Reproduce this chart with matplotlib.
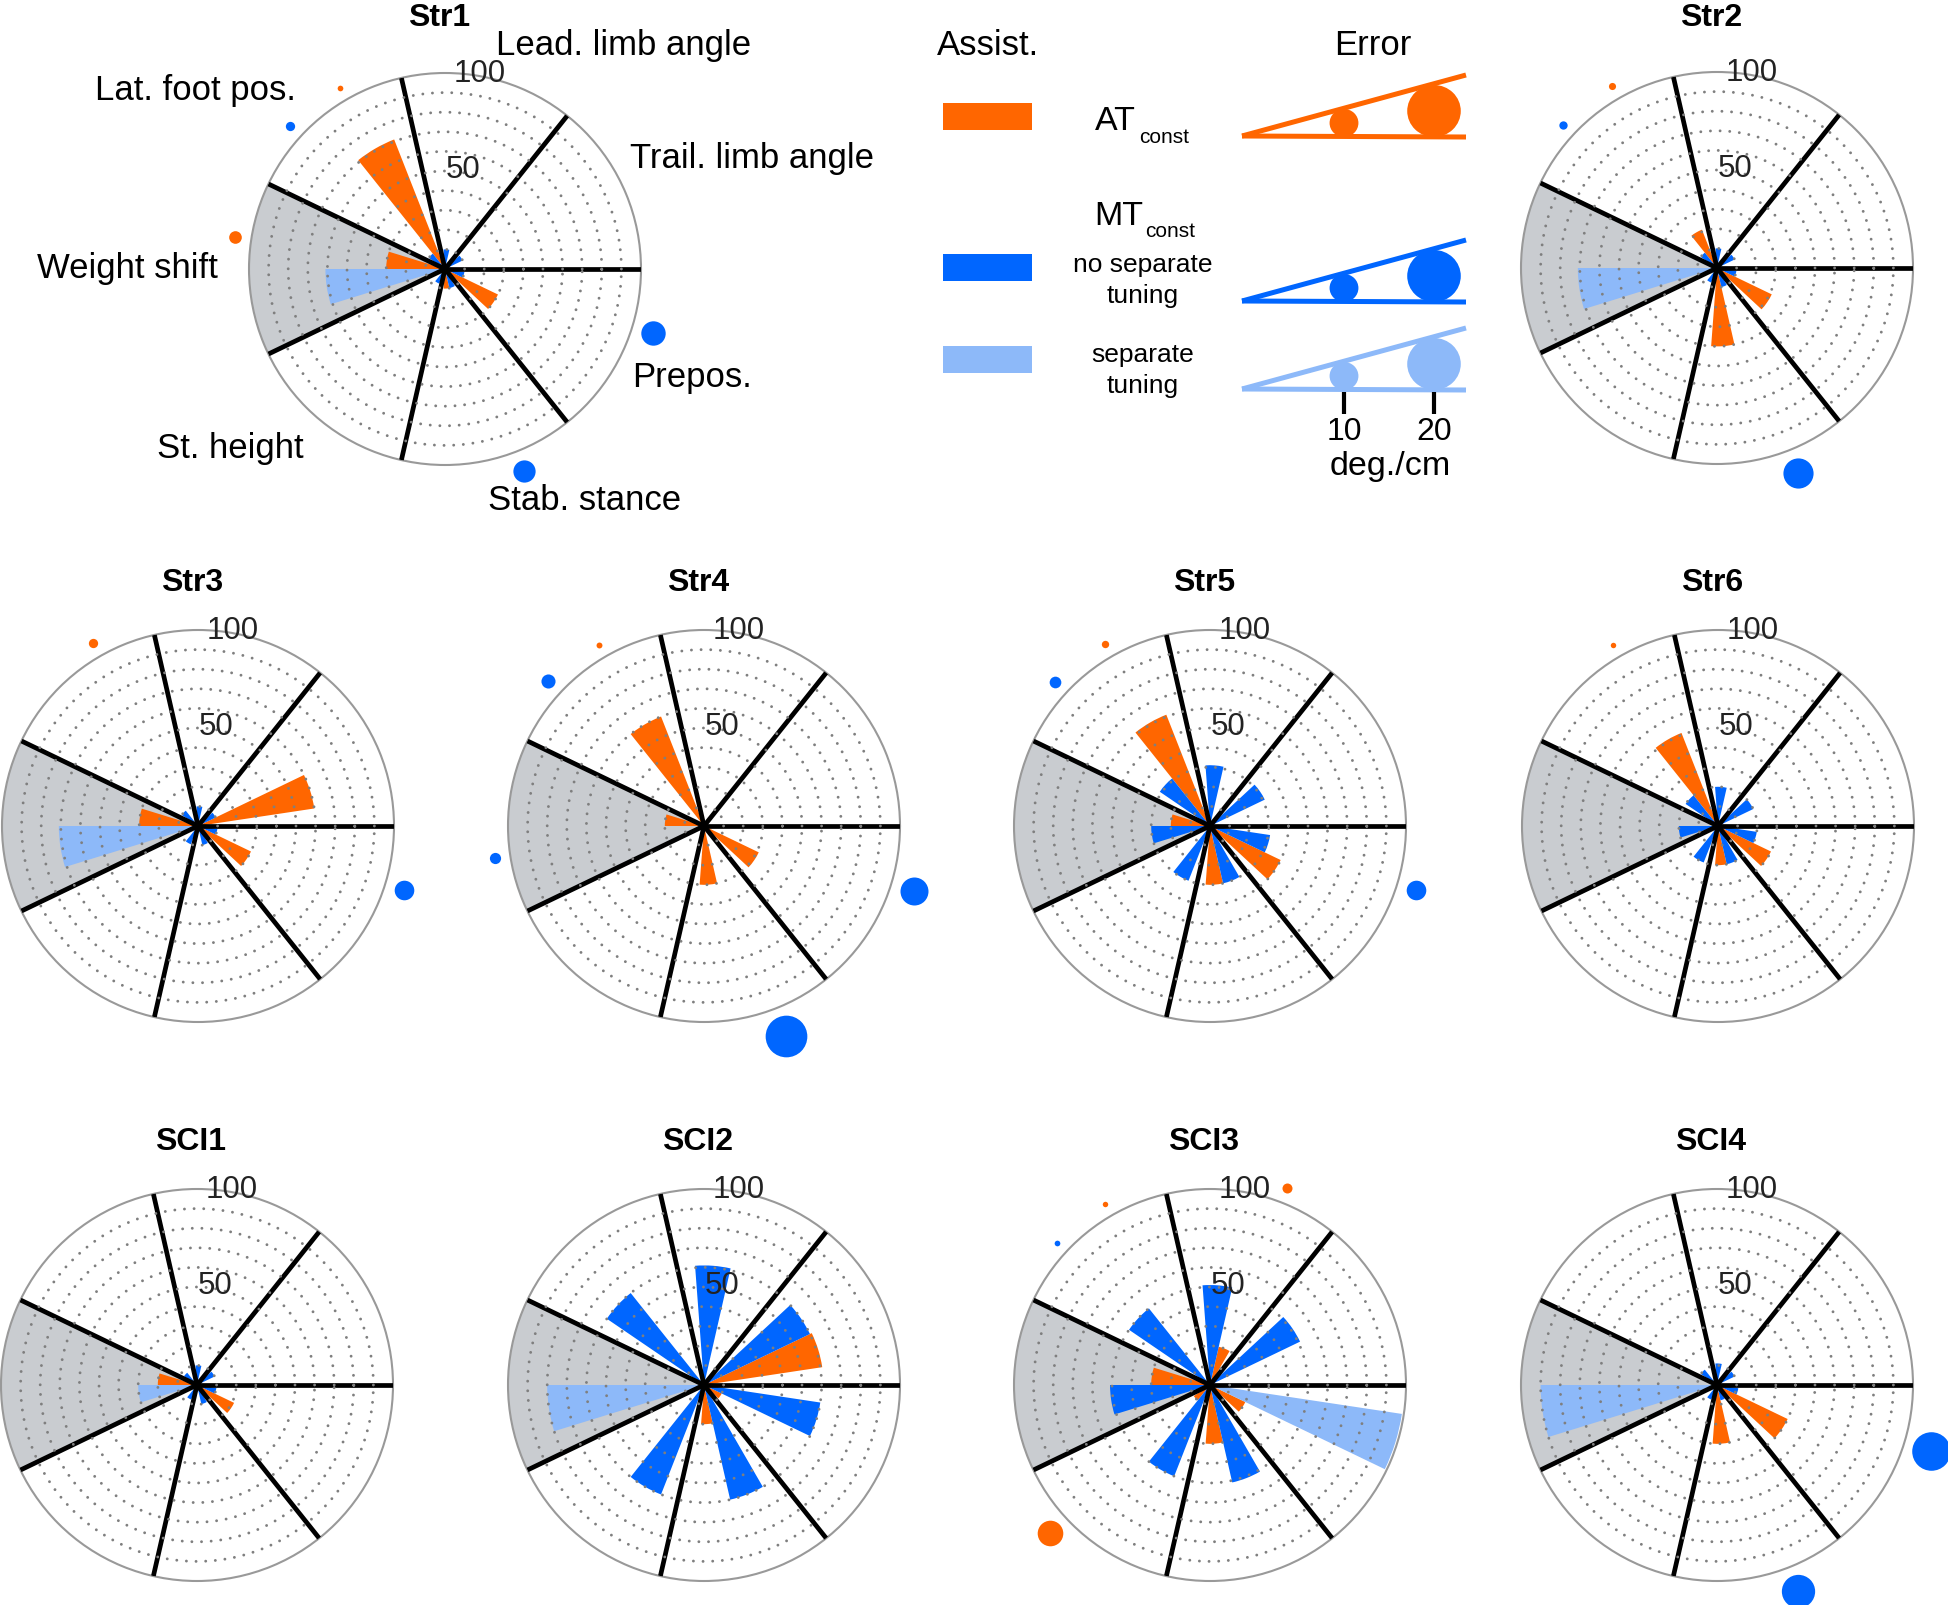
import numpy as np
import matplotlib
matplotlib.use('Agg')
import matplotlib.pyplot as plt
from matplotlib.patches import Ellipse, Rectangle

plt.rcParams['font.family'] = ['Liberation Sans', 'DejaVu Sans']

nan = np.nan

# ---- data ----
subjects = ['Str1', 'Str2', 'Str3', 'Str4', 'Str5', 'Str6',
            'SCI1', 'SCI2', 'SCI3', 'SCI4']
# sectors counter-clockwise starting at 0 deg
sectors = ['Trail. limb angle', 'Lead. limb angle', 'Lat. foot pos.',
           'Weight shift', 'St. height', 'Stab. stance', 'Prepos.']

# assistance (%) per sector
at_const = [
    [0, 0, 71, 30, 0, 10, 30],     # Str1
    [0, 0, 21, 0, 0, 40, 31],      # Str2
    [60, 0, 0, 30, 0, 0, 30],      # Str3
    [0, 0, 60, 20, 0, 30, 31],     # Str4
    [0, 0, 61, 20, 0, 30, 40],     # Str5
    [0, 0, 51, 0, 0, 20, 30],      # Str6
    [0, 0, 0, 20, 0, 0, 21],       # SCI1
    [61, 0, 0, 0, 0, 20, 10],      # SCI2
    [0, 20, 0, 30, 10, 30, 20],    # SCI3
    [0, 0, 0, 0, 0, 30, 40],       # SCI4
]
mt_const = [
    [10, 10, 10, 61, 8, 10, 10],
    [10, 10, 10, 71, 8, 10, 10],
    [10, 10, 10, 71, 10, 10, 10],
    [0, 0, 0, 0, 0, 0, 0],
    [31, 31, 31, 30, 30, 30, 31],
    [20, 20, 20, 20, 20, 20, 20],
    [10, 10, 8, 30, 8, 10, 10],
    [60, 61, 60, 80, 60, 60, 60],
    [51, 51, 50, 51, 50, 51, 99],
    [10, 11, 10, 90, 8, 8, 11],
]
# 1 = MT_const with separate tuning
mt_separate = [
    [0, 0, 0, 1, 0, 0, 0],
    [0, 0, 0, 1, 0, 0, 0],
    [0, 0, 0, 1, 0, 0, 0],
    [0, 0, 0, 0, 0, 0, 0],
    [0, 0, 0, 0, 0, 0, 0],
    [0, 0, 0, 0, 0, 0, 0],
    [0, 0, 0, 1, 0, 0, 0],
    [0, 0, 0, 1, 0, 0, 0],
    [0, 0, 0, 0, 0, 0, 1],
    [0, 0, 0, 1, 0, 0, 0],
]
# error (deg./cm), nan = not shown
at_error = [
    [nan, nan, 0.7, 3.6, nan, nan, nan],
    [nan, nan, 1.3, nan, nan, nan, nan],
    [nan, nan, 2.2, nan, nan, nan, nan],
    [nan, nan, 0.8, nan, nan, nan, nan],
    [nan, nan, 1.4, nan, nan, nan, nan],
    [nan, nan, 0.6, nan, nan, nan, nan],
    [nan, nan, nan, nan, nan, nan, nan],
    [nan, nan, nan, nan, nan, nan, nan],
    [nan, 2.5, 0.6, nan, 9.0, nan, nan],
    [nan, nan, nan, nan, nan, nan, nan],
]
mt_error = [
    [nan, nan, 2.2, nan, nan, 7.6, 8.5],
    [nan, nan, 1.8, nan, nan, 10.9, nan],
    [nan, nan, nan, nan, nan, nan, 6.5],
    [nan, nan, 4.2, 3.0, nan, 15.7, 10.0],
    [nan, nan, 3.2, nan, nan, nan, 6.5],
    [nan, nan, nan, nan, nan, nan, nan],
    [nan, nan, nan, nan, nan, nan, nan],
    [nan, nan, nan, nan, nan, nan, nan],
    [nan, nan, 0.7, nan, nan, nan, nan],
    [nan, nan, nan, nan, nan, 12.2, 14.4],
]
legend_errors = [10, 20]
rticks = [50, 100]

# ---- style ----
ORANGE = '#FF6600'
BLUE = '#0066FF'
LIGHT = '#8DB9F9'
GRAY = '#C9CCD0'

W, H = 1948, 1606
R = 196
centers = [(445, 270), (1717, 269),
           (198, 827), (704, 827), (1210, 827), (1718, 827),
           (197, 1386), (704, 1386), (1210, 1386), (1717, 1386)]
title_y = [26, 26, 591, 591, 591, 591, 1150, 1150, 1150, 1150]


def err_size(e):
    # marker diameter in pixels
    return 4 + 2.4 * e


fig = plt.figure(figsize=(W / 100, H / 100), dpi=100)

nsec = len(sectors)
sec_w = 2 * np.pi / nsec
bar_w = sec_w / 3
sec_mid = np.arange(nsec) * sec_w + sec_w / 2
edges = np.arange(nsec) * sec_w
ring_th = np.linspace(0, 2 * np.pi, 721)

for i, name in enumerate(subjects):
    cx, cy = centers[i]
    ax = fig.add_axes([(cx - R) / W, 1 - (cy + R) / H, 2 * R / W, 2 * R / H],
                      projection='polar')
    ax.set_ylim(0, 100)
    ax.set_xticks([])
    ax.set_yticks([])
    ax.grid(False)
    ax.spines['polar'].set_color('#999999')
    ax.spines['polar'].set_linewidth(1.5)

    # shaded weight-shift sector
    ax.bar(sec_mid[3], 100, width=sec_w, color=GRAY, linewidth=0, zorder=0.5)

    mt_cols = [LIGHT if s else BLUE for s in mt_separate[i]]
    ax.bar(sec_mid - bar_w / 2, at_const[i], width=bar_w, color=ORANGE,
           linewidth=0, zorder=1)
    ax.bar(sec_mid + bar_w / 2, mt_const[i], width=bar_w, color=mt_cols,
           linewidth=0, zorder=1)

    for e in edges:
        ax.plot([e, e], [0, 100], color='k', lw=3.4, zorder=3,
                solid_capstyle='butt')
    for r in range(10, 100, 10):
        ax.plot(ring_th, np.full_like(ring_th, r), color='#7f7f7f', lw=2.1,
                linestyle=(0, (0.01, 3.3)), dash_capstyle='round', zorder=4)

    for t in rticks:
        ax.text(np.deg2rad(80), t + 1.8, str(t), ha='center', va='center',
                fontsize=22.5, color='#222222', zorder=6)

    # error markers outside the circle
    for vals, cols, off in [(at_error[i], [ORANGE] * nsec, -bar_w / 2),
                            (mt_error[i], mt_cols, bar_w / 2)]:
        for k, e in enumerate(vals):
            if np.isnan(e):
                continue
            d = err_size(e)
            ax.scatter(sec_mid[k] + off, 105.5 + 0.23 * d, s=(d * 0.72) ** 2,
                       color=cols[k], linewidths=0, clip_on=False, zorder=5)

    fig.text((cx - 6) / W, 1 - title_y[i] / H, name, ha='center',
             va='baseline', fontsize=23, fontweight='bold')

# ---- overlay in pixel coordinates: sector names + legend ----
ov = fig.add_axes([0, 0, 1, 1])
ov.set_xlim(0, W)
ov.set_ylim(H, 0)
ov.set_axis_off()

label_pos = [(630, 168), (496, 55), (95, 100), (37, 278),
             (157, 458), (488, 510), (632, 387)]
for lab, (x, y) in zip(sectors, label_pos):
    ov.text(x, y, lab, ha='left', va='baseline', fontsize=25)

ov.text(988, 55, 'Assist.', ha='center', va='baseline', fontsize=25)
ov.text(1373, 55, 'Error', ha='center', va='baseline', fontsize=25)

tip_x, end_x = 1242, 1466
rows = [(ORANGE, 104, 138), (BLUE, 255, 303), (LIGHT, 347, 391)]
for col, ry, by in rows:
    ov.add_patch(Rectangle((943, ry), 89, 27, color=col, linewidth=0))
    ov.plot([tip_x, end_x], [by - 1, by - 62], color=col, lw=3.6,
            solid_capstyle='butt')
    ov.plot([tip_x, end_x], [by - 1, by], color=col, lw=3.6,
            solid_capstyle='butt')
    for e in legend_errors:
        d = err_size(e)
        x = 1254 + 9 * e
        ov.add_patch(Ellipse((x, by - 0.5 * d), d * 1.03, d, color=col,
                             linewidth=0))

ov.text(1095, 130, 'AT', ha='left', va='baseline', fontsize=24.5)
ov.text(1139, 143, 'const', ha='left', va='baseline', fontsize=15)
ov.text(1094, 225, 'MT', ha='left', va='baseline', fontsize=24.5)
ov.text(1145, 237, 'const', ha='left', va='baseline', fontsize=15)
ov.text(1143, 272, 'no separate', ha='center', va='baseline', fontsize=19)
ov.text(1143, 303, 'tuning', ha='center', va='baseline', fontsize=19)
ov.text(1143, 362, 'separate', ha='center', va='baseline', fontsize=19)
ov.text(1143, 393, 'tuning', ha='center', va='baseline', fontsize=19)

for e in legend_errors:
    x = 1254 + 9 * e
    ov.plot([x, x], [393, 415], color='k', lw=3, solid_capstyle='butt')
    ov.text(x, 440, str(e), ha='center', va='baseline', fontsize=23)
ov.text(1390, 475, 'deg./cm', ha='center', va='baseline', fontsize=24.5)

fig.savefig('out.png', dpi=100, facecolor='white')
